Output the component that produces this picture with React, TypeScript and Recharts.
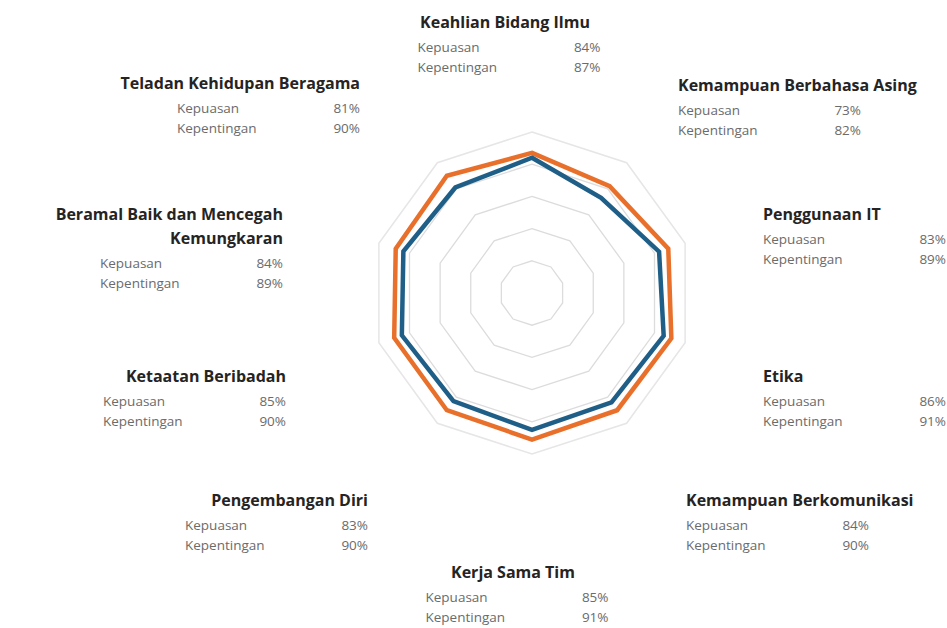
import React from "react";
import { RadarChart, Radar, PolarGrid, PolarAngleAxis, PolarRadiusAxis } from "recharts";

const categories = [
  "Keahlian Bidang Ilmu",
  "Kemampuan Berbahasa Asing",
  "Penggunaan IT",
  "Etika",
  "Kemampuan Berkomunikasi",
  "Kerja Sama Tim",
  "Pengembangan Diri",
  "Ketaatan Beribadah",
  "Beramal Baik dan Mencegah Kemungkaran",
  "Teladan Kehidupan Beragama",
];
const kepuasan = [84, 73, 83, 86, 84, 85, 83, 85, 84, 81];
const kepentingan = [87, 82, 89, 91, 90, 91, 90, 90, 89, 90];
const seriesNames = ["Kepuasan", "Kepentingan"];

const data = categories.map((c, i) => ({
  category: c,
  kepuasan: kepuasan[i],
  kepentingan: kepentingan[i],
}));

// chart geometry
const W = 947;
const H = 628;
const CX = 532;
const CY = 293;
const R = 161;

// label layout, relative to the chart centre
const LABEL_LAYOUT: { align: "start" | "middle" | "end"; dx: number; dy: number }[] = [
  { align: "middle", dx: -27, dy: -271 },
  { align: "start", dx: 146, dy: -208 },
  { align: "start", dx: 231, dy: -79 },
  { align: "start", dx: 231, dy: 83 },
  { align: "start", dx: 154, dy: 207 },
  { align: "middle", dx: -19, dy: 279 },
  { align: "end", dx: -164, dy: 207 },
  { align: "end", dx: -246, dy: 83 },
  { align: "end", dx: -249, dy: -79 },
  { align: "end", dx: -172, dy: -210 },
];

const BLOCK_W = 183;
const FONT = "'Open Sans', 'Noto Sans', sans-serif";

function wrap(text: string, max = 28): string[] {
  const words = text.split(" ");
  const lines: string[] = [];
  let cur = "";
  for (const w of words) {
    const next = cur ? cur + " " + w : w;
    if (next.length > max && cur) {
      lines.push(cur);
      cur = w;
    } else cur = next;
  }
  if (cur) lines.push(cur);
  return lines;
}

const TickLabel = (props: any) => {
  const { index, payload } = props;
  const lay = LABEL_LAYOUT[index];
  if (!lay) return null;
  const x = CX + lay.dx;
  const yT = CY + lay.dy;
  const lines = wrap(String(payload.value));
  let left = x;
  let right = x + BLOCK_W;
  if (lay.align === "end") {
    left = x - BLOCK_W;
    right = x;
  } else if (lay.align === "middle") {
    left = x - BLOCK_W / 2 + 4;
    right = x + BLOCK_W / 2 + 4;
  }
  const lastY = yT + (lines.length - 1) * 24;
  const rows = [
    { name: seriesNames[0], v: kepuasan[index] },
    { name: seriesNames[1], v: kepentingan[index] },
  ];
  return (
    <g>
      {lines.map((l, k) => (
        <text
          key={k}
          x={x}
          y={yT + k * 24}
          textAnchor={lay.align}
          dominantBaseline="central"
          fontFamily={FONT}
          fontWeight={700}
          fontSize={16}
          fill="#252423"
        >
          {l}
        </text>
      ))}
      {rows.map((r, k) => (
        <g key={"r" + k}>
          <text
            x={left}
            y={lastY + 25 + k * 20}
            textAnchor="start"
            dominantBaseline="central"
            fontFamily={FONT}
            fontSize={13.5}
            fill="#6b6b6b"
          >
            {r.name}
          </text>
          <text
            x={right}
            y={lastY + 25 + k * 20}
            textAnchor="end"
            dominantBaseline="central"
            fontFamily={FONT}
            fontSize={13.5}
            fill="#6b6b6b"
          >
            {r.v + "%"}
          </text>
        </g>
      ))}
    </g>
  );
};

export default function App() {
  return (
    <div style={{ position: "absolute", left: 0, top: 0, width: W, height: H, background: "#fff" }}>
      <RadarChart
        width={W}
        height={H}
        data={data}
        cx={CX}
        cy={CY}
        outerRadius={R}
        margin={{ top: 0, right: 0, bottom: 0, left: 0 }}
      >
        <PolarGrid
          gridType="polygon"
          radialLines={false}
          stroke="#e6e6e6"
          strokeWidth={1.5}
          polarRadius={[R]}
        />
        <PolarGrid
          gridType="polygon"
          radialLines={false}
          stroke="#dcdcdc"
          strokeWidth={1.3}
          polarRadius={[R * 0.2, R * 0.4, R * 0.6, R * 0.8]}
        />
        <PolarRadiusAxis domain={[0, 100]} tickCount={6} tick={false} axisLine={false} />
        <PolarAngleAxis dataKey="category" tick={<TickLabel />} tickLine={false} axisLine={false} />
        <Radar
          name={seriesNames[1]}
          dataKey="kepentingan"
          stroke="#e8702a"
          strokeWidth={4.5}
          fill="none"
          fillOpacity={0}
          dot={false}
          isAnimationActive={false}
        />
        <Radar
          name={seriesNames[0]}
          dataKey="kepuasan"
          stroke="#1f5f87"
          strokeWidth={4.5}
          fill="none"
          fillOpacity={0}
          dot={false}
          isAnimationActive={false}
        />
      </RadarChart>
    </div>
  );
}
